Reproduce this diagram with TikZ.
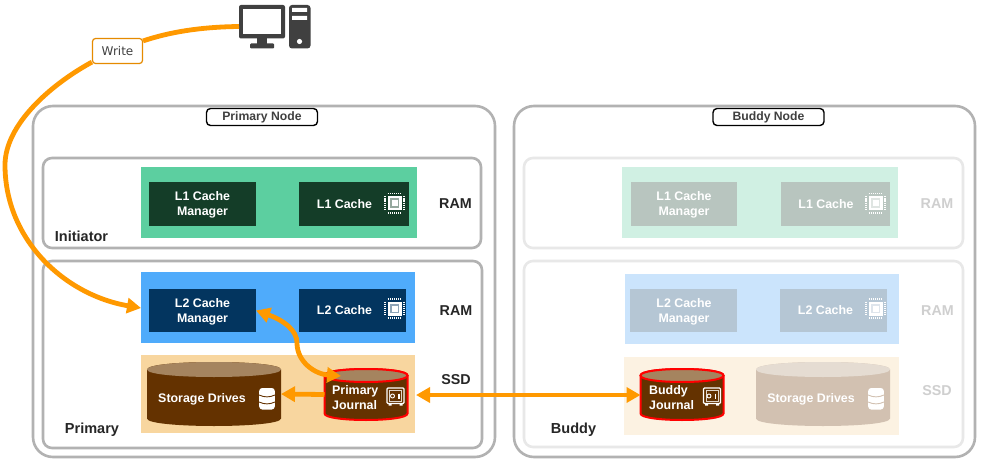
\documentclass[tikz,border=0pt]{standalone}
\usepackage{fontspec}
\setmainfont{Liberation Sans}
\newfontfamily\writefont{DejaVu Sans}
\usetikzlibrary{arrows.meta,calc}
\definecolor{wireorange}{HTML}{FF9900}
\definecolor{framegray}{HTML}{B2B2B2}
\definecolor{framelight}{HTML}{E8E8E8}
\definecolor{inkdark}{HTML}{404040}
\definecolor{greenbg}{HTML}{5CCFA0}
\definecolor{greenbox}{HTML}{143D28}
\definecolor{bluebg}{HTML}{4FABFB}
\definecolor{bluebox}{HTML}{03355F}
\definecolor{tanbg}{HTML}{F8D69F}
\definecolor{brown}{HTML}{643200}
\definecolor{browntop}{HTML}{A5845F}
\definecolor{greenbgf}{HTML}{D0F0E3}
\definecolor{greenboxf}{HTML}{B8C5BF}
\definecolor{bluebgf}{HTML}{CBE4FC}
\definecolor{blueboxf}{HTML}{B5C6D4}
\definecolor{tanbgf}{HTML}{FCF2E2}
\definecolor{brownf}{HTML}{D2C1B1}
\definecolor{browntopf}{HTML}{E5DCD2}
\definecolor{labelf}{HTML}{CFCFCF}
\tikzset{
  area/.style={anchor=north west,inner sep=0pt,outer sep=0pt},
  boxtext/.style={text=white,font=\bfseries\fontsize{12.4}{15.5}\selectfont,align=center},
  leftboxtext/.style={text=white,font=\bfseries\fontsize{12.4}{15}\selectfont,align=left,anchor=west,inner sep=0pt},
  sidelabel/.style={font=\bfseries\fontsize{14.3}{16}\selectfont,inner sep=0pt,text=#1},
  sidelabel/.default=black!85,
  cornerlabel/.style={font=\bfseries\fontsize{14.5}{16}\selectfont,inner sep=0pt,text=black!85},
  nodetitle/.style={draw=black,line width=1.4pt,rounded corners=4pt,fill=white,text=inkdark,
     font=\bfseries\fontsize{12.2}{14}\selectfont,minimum width=111pt,minimum height=17pt,inner sep=0pt},
  outerframe/.style={draw=framegray,line width=2.6pt,rounded corners=20pt},
  innerframe/.style={draw=#1,line width=2.6pt,rounded corners=9pt},
  flow/.style={draw=wireorange,line width=4.8pt},
  tipped/.style={-{Triangle[length=14pt,width=15pt]}},
  twotipped/.style={{Triangle[length=14pt,width=15pt]}-{Triangle[length=14pt,width=15pt]}},
}
% box: name, x1, y1, x2, y2, fill
\newcommand{\blockbox}[6]{\node[area,fill=#6,minimum width={(#4-#2)*1pt},minimum height={(#5-#3)*1pt}] (#1) at (#2,#3) {};}
% cylinder: name, x1, yt, x2, yb, ry, body, top, edge
\newcommand{\drum}[9]{%
  \path[fill=#7,draw=#9,line width=2pt] (#2,#3) -- (#2,#5) .. controls (#2,{#5+#6*1.333}) and (#4,{#5+#6*1.333}) .. (#4,#5) -- (#4,#3)
     .. controls (#4,{#3-#6*1.333}) and (#2,{#3-#6*1.333}) .. (#2,#3) -- cycle;
  \path[fill=#8,draw=#9,line width=2pt] (#2,#3) .. controls (#2,{#3+#6*1.333}) and (#4,{#3+#6*1.333}) .. (#4,#3)
     .. controls (#4,{#3-#6*1.333}) and (#2,{#3-#6*1.333}) .. (#2,#3) -- cycle;
  \node[inner sep=0pt,outer sep=0pt,minimum width={(#4-#2)*1pt},minimum height={(#5-#3+2*#6)*1pt}] (#1) at ({(#2+#4)/2},{(#3+#5)/2}) {};}
% chip icon: cx, cy, box colour
\newcommand{\chipicon}[3]{%
  \fill[white] ({#1-7},{#2-7}) rectangle ({#1+7},{#2+7});
  \draw[#3!45!white,line width=1.6pt] ({#1-3.8},{#2-3.8}) rectangle ({#1+3.8},{#2+3.8});
  \draw[white,line width=1.8pt,dash pattern=on 1.2pt off 0.9pt] ({#1-6.8},{#2-9.6}) -- ({#1+6.8},{#2-9.6}) ({#1-6.8},{#2+9.6}) -- ({#1+6.8},{#2+9.6})
     ({#1-9.6},{#2-6.8}) -- ({#1-9.6},{#2+6.8}) ({#1+9.6},{#2-6.8}) -- ({#1+9.6},{#2+6.8});}
% database icon: cx, cy, gap colour
\newcommand{\dbicon}[3]{%
  \fill[white,rounded corners=3pt] ({#1-7.8},{#2-11}) rectangle ({#1+7.8},{#2+10.5});
  \draw[#3,line width=0.9pt] ({#1-7.8},{#2-4}) .. controls ({#1-3},{#2-1.5}) and ({#1+3},{#2-1.5}) .. ({#1+7.8},{#2-4});
  \draw[#3,line width=0.9pt] ({#1-7.8},{#2+3}) .. controls ({#1-3},{#2+5.5}) and ({#1+3},{#2+5.5}) .. ({#1+7.8},{#2+3});}
% safe icon: cx, cy, body colour
\newcommand{\safeicon}[3]{%
  \draw[white,line width=1.3pt,fill=#3,rounded corners=1pt] ({#1-8.5},{#2-8.5}) rectangle ({#1+8.5},{#2+7});
  \draw[white!80!#3,line width=0.8pt] ({#1-6},{#2-6}) rectangle ({#1+6},{#2+4.5});
  \fill[white] ({#1-7},{#2+7}) rectangle ({#1-4},{#2+9}) ({#1+4},{#2+7}) rectangle ({#1+7},{#2+9});
  \draw[white,line width=0.9pt] ({#1-3},{#2-0.5}) circle[radius=2pt];
  \draw[white,line width=1.1pt] ({#1+3.5},{#2-3}) -- ({#1+3.5},{#2+2});}
\begin{document}
\begin{tikzpicture}[x=1pt,y=-1pt]
\useasboundingbox (0,0) rectangle (981,465);
\fill[white] (0,0) rectangle (981,465);

% frames
\draw[outerframe] (33,106) rectangle (495,457);
\draw[outerframe] (514,106) rectangle (975,457);
\draw[innerframe=framegray] (43,158) rectangle (481,248);
\draw[innerframe=framegray] (43,261) rectangle (482,448);
\draw[innerframe=framelight] (524,158) rectangle (963,248);
\draw[innerframe=framelight] (524,261) rectangle (963,447);
\node[nodetitle] (ptitle) at (262,117) {Primary Node};
\node[nodetitle] (btitle) at (768.5,117) {Buddy Node};

% primary node areas
\node[area,fill=greenbg,minimum width=276pt,minimum height=71pt] (l1bg) at (141,167) {};
\node[area,fill=bluebg,minimum width=274pt,minimum height=71pt] (l2bg) at (141,272) {};
\node[area,fill=tanbg,minimum width=274pt,minimum height=78pt] (ssdbg) at (141,355) {};
\blockbox{l1m}{149}{182}{256}{226}{greenbox}
\blockbox{l1c}{299}{182}{409}{226}{greenbox}
\blockbox{l2m}{149}{289}{256}{332}{bluebox}
\blockbox{l2c}{299}{289}{406}{332}{bluebox}
\node[boxtext] (l1mt) at (202.5,205) {L1 Cache\\Manager};
\node[boxtext] (l1ct) at (344.5,204) {L1 Cache};
\node[boxtext] (l2mt) at (202.5,312) {L2 Cache\\Manager};
\node[boxtext] (l2ct) at (344.5,310.5) {L2 Cache};
\chipicon{394.5}{203}{greenbox}
\chipicon{394.5}{308.5}{bluebox}
\drum{sd}{147}{369.5}{281}{418.5}{7.5}{brown}{browntop}{none}
\node[boxtext] (sdt) at (202,399.5) {Storage Drives};
\dbicon{267}{399}{brown}
\drum{pj}{324.5}{375.5}{407.5}{413.5}{6.5}{brown}{browntop}{red}
\node[leftboxtext] (pjt) at (332,397.5) {Primary\\Journal};
\safeicon{395.5}{396.5}{brown}

% buddy node areas
\node[area,fill=greenbgf,minimum width=276pt,minimum height=71pt] (bl1bg) at (622,167) {};
\node[area,fill=bluebgf,minimum width=274pt,minimum height=70pt] (bl2bg) at (625,274) {};
\node[area,fill=tanbgf,minimum width=275pt,minimum height=78pt] (bssdbg) at (624,357) {};
\blockbox{bl1m}{631}{182}{737}{226}{greenboxf}
\blockbox{bl1c}{781}{182}{890}{226}{greenboxf}
\blockbox{bl2m}{630}{289}{737}{332}{blueboxf}
\blockbox{bl2c}{780}{289}{887}{332}{blueboxf}
\node[boxtext] (bl1mt) at (684,205) {L1 Cache\\Manager};
\node[boxtext] (bl1ct) at (826,204) {L1 Cache};
\node[boxtext] (bl2mt) at (684,312) {L2 Cache\\Manager};
\node[boxtext] (bl2ct) at (825.5,310.5) {L2 Cache};
\chipicon{875.5}{203}{greenboxf}
\chipicon{875.5}{308.5}{blueboxf}
\drum{bsd}{756}{369.5}{890}{418.5}{7.5}{brownf}{browntopf}{none}
\node[boxtext] (bsdt) at (811,399.5) {Storage Drives};
\dbicon{876}{399}{brownf}
\drum{bj}{640.5}{375.5}{723.5}{413.5}{6.5}{brown}{browntop}{red}
\node[leftboxtext] (bjt) at (649,397.5) {Buddy\\Journal};
\safeicon{712}{396.5}{brown}

% side labels
\node[sidelabel] (ram1) at (455.5,204) {RAM};
\node[sidelabel] (ram2) at (456,311) {RAM};
\node[sidelabel] (ssd1) at (456,380) {SSD};
\node[sidelabel=labelf] (bram1) at (937,204) {RAM};
\node[sidelabel=labelf] (bram2) at (937.5,311) {RAM};
\node[sidelabel=labelf] (bssd) at (937,391) {SSD};
\node[cornerlabel] (init) at (81.5,236) {Initiator};
\node[cornerlabel] (prim) at (92,430) {Primary};
\node[cornerlabel] (bud) at (573.5,430) {Buddy};

% computer
\node[inner sep=0pt,outer sep=0pt,minimum width=46pt,minimum height=43pt] (pc) at (262,26.5) {};
\fill[inkdark,rounded corners=2pt] (239,5) rectangle (285,38.5);
\fill[white] (243,9) rectangle (281,34);
\fill[inkdark] (257,38) rectangle (267,44);
\fill[inkdark,rounded corners=1pt] (250,43.5) rectangle (274,48.5);
\fill[inkdark,rounded corners=3pt] (289,5) rectangle (310.5,48.5);
\fill[white] (292,8) rectangle (307,12) (292,16) rectangle (307,20);
\fill[white] (299.5,41.5) circle[radius=2.6pt];

% connectors
\node[draw=wireorange!90!black,line width=1.2pt,rounded corners=3pt,fill=white,text=inkdark,minimum width=50pt,minimum height=25pt,inner sep=0pt,font=\writefont\fontsize{12}{14}\selectfont] (write) at (117.5,51) {Write};
\coordinate (wleft) at (5,165);
\coordinate (pjtop) at (341,376);
\draw[flow] (pc.west) .. controls (200,27) and (170,32) .. ($(write.north east)+(0,3)$);
\draw[flow,tipped] ($(write.south west)+(0,-2)$)
   .. controls (50,85) and (5,125) .. (wleft)
   .. controls (5,240) and (65,295) .. (l2bg.west |- 0,308);
\draw[flow,twotipped] (l2m.east) .. controls (283,320) and (297,330) .. (297,343)
   .. controls (297,362) and (315,374) .. (pjtop);
\draw[flow,tipped] (pj.west) -- (sd.east);
\draw[flow,twotipped] ($(pj.east |- 0,395)+(8.5,0)$) -- (bj.west |- 0,395);
\end{tikzpicture}
\end{document}
